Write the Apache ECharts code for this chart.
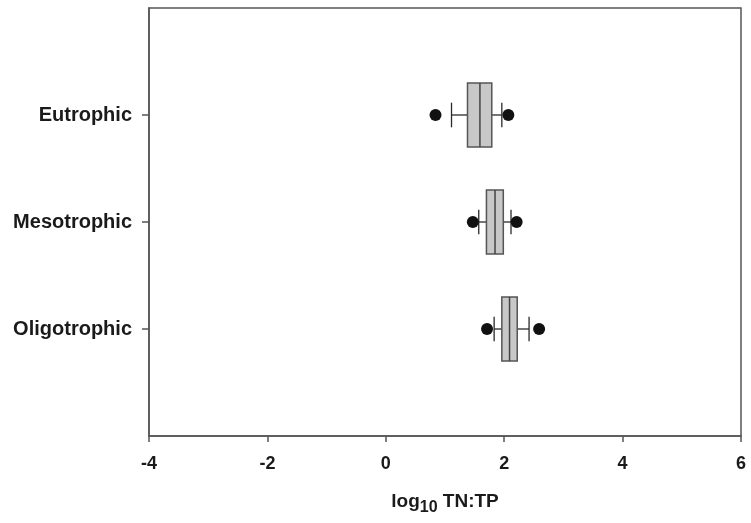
<!DOCTYPE html>
<html>
<head>
<meta charset="utf-8">
<script src="https://cdn.jsdelivr.net/npm/echarts@6/dist/echarts.min.js"></script>
<style>
  html, body { margin: 0; padding: 0; background: #fff; }
  #chart { width: 751px; height: 523px; }
</style>
</head>
<body>
<div id="chart"></div>
<script>
// Trophic states, top to bottom
const categories = ['Eutrophic', 'Mesotrophic', 'Oligotrophic'];

// log10 TN:TP box summaries
const whiskerLow  = [1.11, 1.57, 1.83];
const q1          = [1.38, 1.70, 1.96];
const median      = [1.59, 1.845, 2.09];
const q3          = [1.79, 1.985, 2.22];
const whiskerHigh = [1.96, 2.115, 2.42];

// Outlying points beyond the whiskers
const outlierLow  = [0.84, 1.47, 1.71];
const outlierHigh = [2.07, 2.21, 2.59];

// X axis ticks
const xTicks = [-4, -2, 0, 2, 4, 6];

// Category axis gets an empty slot at each end so the boxes sit at 1/4, 2/4, 3/4
const yCats = [''].concat(categories, ['']);

const boxData = categories.map((c, i) =>
  [i + 1, whiskerLow[i], q1[i], median[i], q3[i], whiskerHigh[i]]);

const pointData = [];
categories.forEach((c, i) => {
  pointData.push([outlierLow[i], i + 1]);
  pointData.push([outlierHigh[i], i + 1]);
});

const axisColor = '#555';
const textColor = '#1a1a1a';
const font = 'Liberation Sans, Arial, sans-serif';

const chart = echarts.init(document.getElementById('chart'), null, { renderer: 'canvas' });

chart.setOption({
  animation: false,
  backgroundColor: '#fff',
  grid: {
    left: 149, right: 10, top: 8, bottom: 87,
    show: true, borderColor: axisColor, borderWidth: 1.5, backgroundColor: 'transparent'
  },
  xAxis: {
    type: 'value',
    min: xTicks[0], max: xTicks[xTicks.length - 1], interval: 2,
    splitLine: { show: false },
    axisLine: { show: true, onZero: false, lineStyle: { color: axisColor, width: 1.5 } },
    axisTick: { show: true, length: 6, lineStyle: { color: axisColor, width: 1.5 } },
    axisLabel: {
      margin: 19, color: textColor, fontSize: 18, fontWeight: 'bold', fontFamily: font
    },
    name: '{b|log}{s|10}{b| TN:TP}',
    nameLocation: 'middle',
    nameGap: 56,
    nameTextStyle: {
      color: textColor,
      fontFamily: font,
      rich: {
        b: { fontSize: 19, fontWeight: 'bold', color: textColor, lineHeight: 24, verticalAlign: 'top', fontFamily: font },
        s: { fontSize: 16, fontWeight: 'bold', color: textColor, lineHeight: 12, verticalAlign: 'bottom', fontFamily: font }
      }
    }
  },
  yAxis: {
    type: 'category',
    data: yCats,
    inverse: true,
    boundaryGap: false,
    splitLine: { show: false },
    axisLine: { show: true, onZero: false, lineStyle: { color: axisColor, width: 1.5 } },
    axisTick: {
      show: true, length: 7, lineStyle: { color: axisColor, width: 1.5 },
      interval: (idx, val) => val !== ''
    },
    axisLabel: {
      margin: 17, color: textColor, fontSize: 20, fontWeight: 'bold', fontFamily: font
    }
  },
  series: [
    {
      type: 'custom',
      data: boxData,
      encode: { x: [1, 2, 3, 4, 5], y: 0 },
      renderItem: function (params, api) {
        const yi = api.value(0);
        const band = api.size([0, 1])[1];
        const boxHalf = band * 0.3;
        const capHalf = band * 0.115;
        const pLow = api.coord([api.value(1), yi]);
        const pQ1 = api.coord([api.value(2), yi]);
        const pMed = api.coord([api.value(3), yi]);
        const pQ3 = api.coord([api.value(4), yi]);
        const pHigh = api.coord([api.value(5), yi]);
        const cy = pQ1[1];
        const lineStyle = { stroke: '#2a2a2a', lineWidth: 1.3, fill: null };
        return {
          type: 'group',
          children: [
            { type: 'line', shape: { x1: pLow[0], y1: cy, x2: pQ1[0], y2: cy }, style: lineStyle },
            { type: 'line', shape: { x1: pQ3[0], y1: cy, x2: pHigh[0], y2: cy }, style: lineStyle },
            { type: 'line', shape: { x1: pLow[0], y1: cy - capHalf, x2: pLow[0], y2: cy + capHalf }, style: lineStyle },
            { type: 'line', shape: { x1: pHigh[0], y1: cy - capHalf, x2: pHigh[0], y2: cy + capHalf }, style: lineStyle },
            {
              type: 'rect',
              shape: { x: pQ1[0], y: cy - boxHalf, width: pQ3[0] - pQ1[0], height: boxHalf * 2 },
              style: { fill: '#c8c8c8', stroke: '#555', lineWidth: 1.5 }
            },
            { type: 'line', shape: { x1: pMed[0], y1: cy - boxHalf, x2: pMed[0], y2: cy + boxHalf },
              style: { stroke: '#444', lineWidth: 1.5 } }
          ]
        };
      },
      z: 2
    },
    {
      type: 'scatter',
      data: pointData,
      symbol: 'circle',
      symbolSize: 12,
      itemStyle: { color: '#111', opacity: 1 },
      z: 3
    }
  ]
});
</script>
</body>
</html>
